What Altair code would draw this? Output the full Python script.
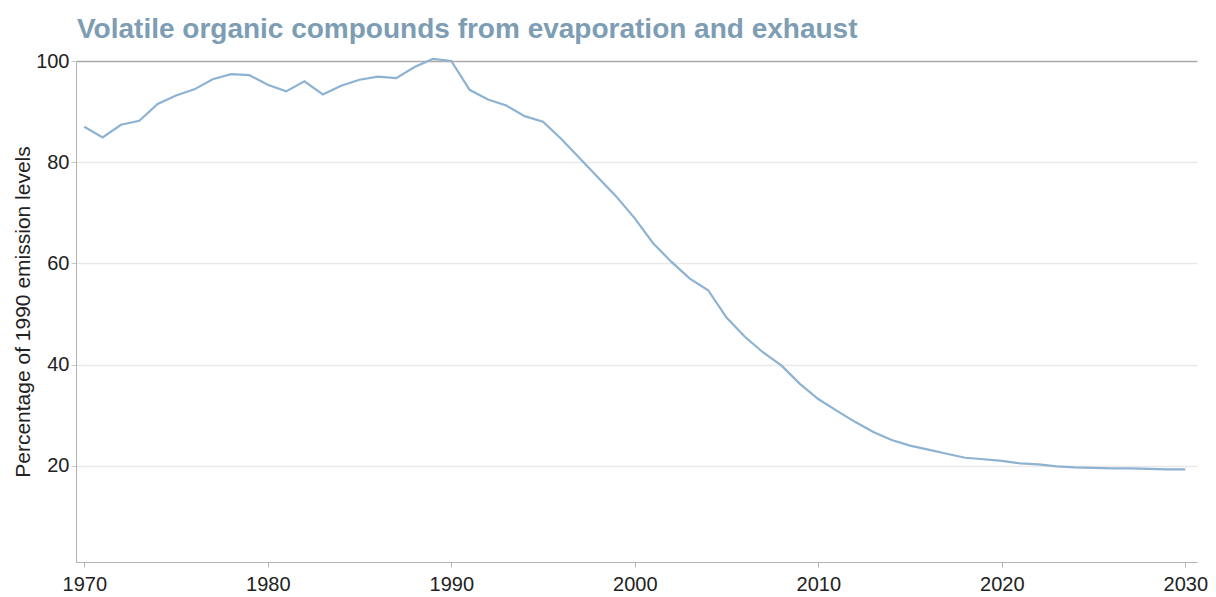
import altair as alt
import pandas as pd

years = list(range(1970, 2031))
values = [
    87.0, 84.9, 87.4, 88.2, 91.5, 93.2, 94.4, 96.4, 97.4, 97.2,
    95.3, 94.0, 96.0, 93.4, 95.1, 96.3, 96.9, 96.6, 98.8, 100.4,
    100.0, 94.3, 92.4, 91.2, 89.1, 88.0, 84.6, 80.8, 77.0, 73.2,
    68.9, 64.0, 60.3, 57.0, 54.7, 49.3, 45.5, 42.4, 39.8, 36.2,
    33.2, 30.9, 28.7, 26.7, 25.1, 24.0, 23.2, 22.4, 21.6, 21.3,
    21.0, 20.5, 20.3, 19.9, 19.7, 19.6, 19.5, 19.5, 19.4, 19.3,
    19.3,
]
x_ticks = [1970, 1980, 1990, 2000, 2010, 2020, 2030]
y_ticks = [20, 40, 60, 80, 100]

title_text = "Volatile organic compounds from evaporation and exhaust"
y_title = "Percentage of 1990 emission levels"

df = pd.DataFrame({"year": years, "value": values})

FONT = "Liberation Sans"

chart = alt.Chart(df).mark_line(
    color="#8db2d2", strokeWidth=2.2, clip=False
).encode(
    x=alt.X(
        "year:Q",
        scale=alt.Scale(domain=[1969.55, 2030.64], nice=False, zero=False),
        axis=alt.Axis(
            values=x_ticks, format="d", title=None, grid=False,
            domainColor="#b3b3b3", tickColor="#b3b3b3", tickSize=5,
            labelPadding=7, labelFontSize=20, labelColor="#222222",
            labelFont=FONT, labelFlush=False, labelOverlap=False,
        ),
    ),
    y=alt.Y(
        "value:Q",
        scale=alt.Scale(domain=[1.0, 100], nice=False, zero=False),
        axis=alt.Axis(
            values=y_ticks, title=y_title, grid=True,
            gridColor=alt.condition("datum.value === 100", alt.value("#aaaaaa"), alt.value("#e9e9e9")),
            gridWidth=1.5,
            domainColor="#b3b3b3", tickColor="#c8c8c8", tickSize=5,
            labelPadding=2, labelFontSize=20, labelColor="#222222",
            labelFont=FONT, labelFlush=False,
            titleFont=FONT, titleFontSize=21, titleFontWeight="normal",
            titleColor="#222222", titleAngle=-90, titleAlign="center",
            titleBaseline="alphabetic", titleX=-47, titleY=250.5,
        ),
    ),
).properties(
    width=1121,
    height=501,
    title=alt.TitleParams(
        text=title_text, anchor="start", orient="top", frame="group",
        font=FONT, fontSize=28, fontWeight="bold", color="#7d9db4",
        offset=7, dx=1,
    ),
    autosize=alt.AutoSizeParams(type="none"),
    padding={"left": 68, "top": 53, "right": 11, "bottom": 34},
).configure_view(stroke=None)

chart.save("out.html", embed_options={"renderer": "svg", "actions": False})
